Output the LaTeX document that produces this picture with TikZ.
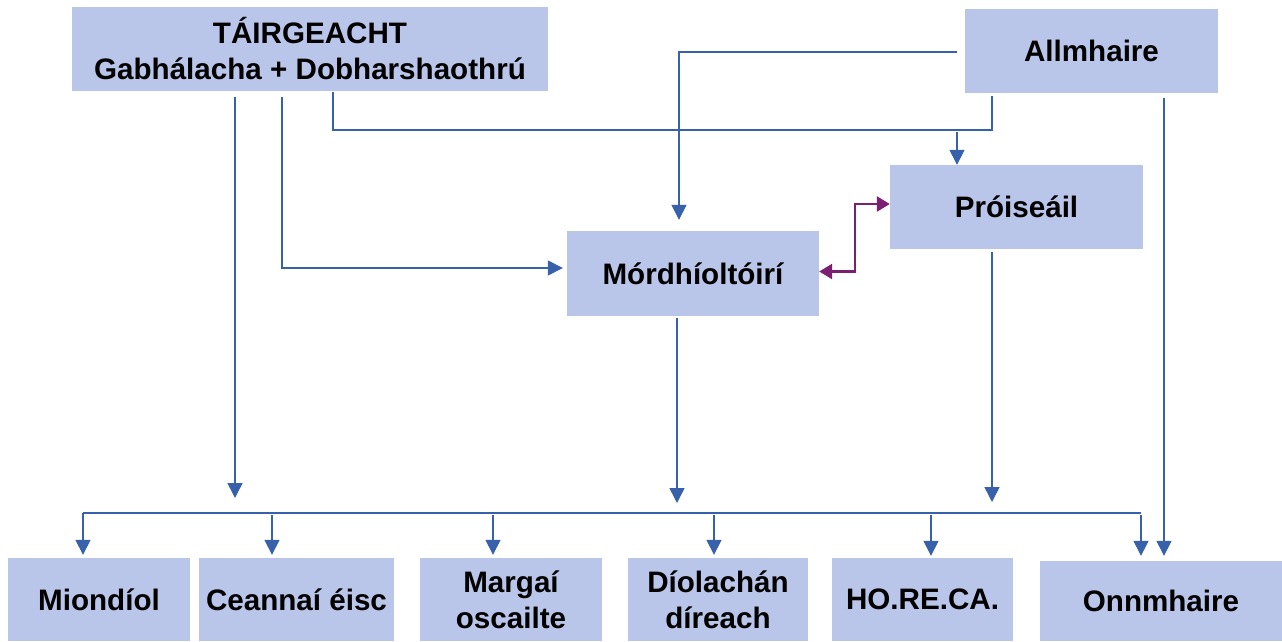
\documentclass[tikz,border=0pt]{standalone}
\usepackage{fontspec}
\setmainfont{Liberation Sans}
\usetikzlibrary{arrows.meta}
\definecolor{boxfill}{HTML}{B9C6E9}
\definecolor{lineblue}{HTML}{3761AA}
\definecolor{linepurple}{HTML}{7A1F72}
\tikzset{
  box/.style={fill=boxfill, draw=none, inner sep=0pt, align=center,
    font=\fontsize{29.6}{36}\selectfont\bfseries},
  arr/.style={draw=lineblue, line width=1.5pt, -{Triangle[length=15pt,width=15pt]}},
  ln/.style={draw=lineblue, line width=1.5pt},
  parr/.style={draw=linepurple, line width=2.5pt,
    {Triangle[length=13pt,width=15pt]}-{Triangle[length=13pt,width=15pt]}}
}
\begin{document}
\begin{tikzpicture}[x=1pt,y=-1pt]
\useasboundingbox (0,0) rectangle (1282,641);
% boxes
\node[box, minimum width=476pt, minimum height=84pt] (tair) at (310,49) {TÁIRGEACHT\\Gabhálacha + Dobharshaothrú};
\node[box, minimum width=253pt, minimum height=84pt] (allm) at (1091.5,51) {Allmhaire};
\node[box, minimum width=253pt, minimum height=84pt] (proc) at (1016.5,207) {Próiseáil};
\node[box, minimum width=252pt, minimum height=85pt] (mord) at (693,273.5) {Mórdhíoltóirí};
\node[box, minimum width=182pt, minimum height=83pt] (mion) at (99,599.5) {Miondíol};
\node[box, minimum width=195pt, minimum height=83pt] (ceann) at (296.5,599.5) {Ceannaí éisc};
\node[box, minimum width=182pt, minimum height=83pt] (marg) at (511,599.5) {Margaí\\oscailte};
\node[box, minimum width=180pt, minimum height=83pt] (diol) at (718,599.5) {Díolachán\\díreach};
\node[box, minimum width=181pt, minimum height=83pt] (horeca) at (922.5,599.5) {HO.RE.CA.};
\node[box, minimum width=242pt, minimum height=80pt] (onn) at (1161,601) {Onnmhaire};
% free ends
\coordinate (t1) at (235,97);
\coordinate (t1e) at (235,498);
\coordinate (t2) at (282,97);
\coordinate (t2c) at (282,268);
\coordinate (t3) at (333,92);
\coordinate (a1) at (992,96);
\coordinate (a3) at (957,52);
\coordinate (p1) at (957,132);
\coordinate (a2) at (1164,98);
\coordinate (m1) at (677,318);
\coordinate (m1e) at (677,503);
\coordinate (pr1) at (992,252);
\coordinate (pr1e) at (992,502);
\coordinate (busL) at (83,513);
\coordinate (busR) at (1141,513);
\coordinate (d1) at (83,513);
\coordinate (d2) at (272,515);
\coordinate (d3) at (493,515);
\coordinate (d4) at (714,515);
\coordinate (d5) at (931,515);
\coordinate (d6) at (1141,515);
% connectors from TÁIRGEACHT
\draw[arr] (t1) -- (t1e);
\draw[arr, shorten >=4pt] (t2) -- (t2c) -- (mord.west |- t2c);
\draw[ln] (t3) -- (333,130) -- (992,130) -- (a1);
% from Allmhaire
\draw[arr, shorten >=11pt] (a3) -| ([xshift=-14pt]mord.north);
\draw[arr] (p1) -- (p1 |- proc.north);
\draw[arr, shorten >=5pt] (a2) -- (a2 |- onn.north);
% Mórdhíoltóirí <-> Próiseáil
\draw[parr] ([yshift=2pt]mord.east) -- ++(36,0) |- ([yshift=3pt]proc.west);
% down to bus
\draw[arr] (m1) -- (m1e);
\draw[arr] (pr1) -- (pr1e);
\draw[ln] (busL) -- (busR);
\draw[arr, shorten >=3pt] (d1) -- (d1 |- mion.north);
\draw[arr, shorten >=3pt] (d2) -- (d2 |- ceann.north);
\draw[arr, shorten >=3pt] (d3) -- (d3 |- marg.north);
\draw[arr, shorten >=3pt] (d4) -- (d4 |- diol.north);
\draw[arr, shorten >=2pt] (d5) -- (d5 |- horeca.north);
\draw[arr, shorten >=5pt] (d6) -- (d6 |- onn.north);
\end{tikzpicture}
\end{document}
